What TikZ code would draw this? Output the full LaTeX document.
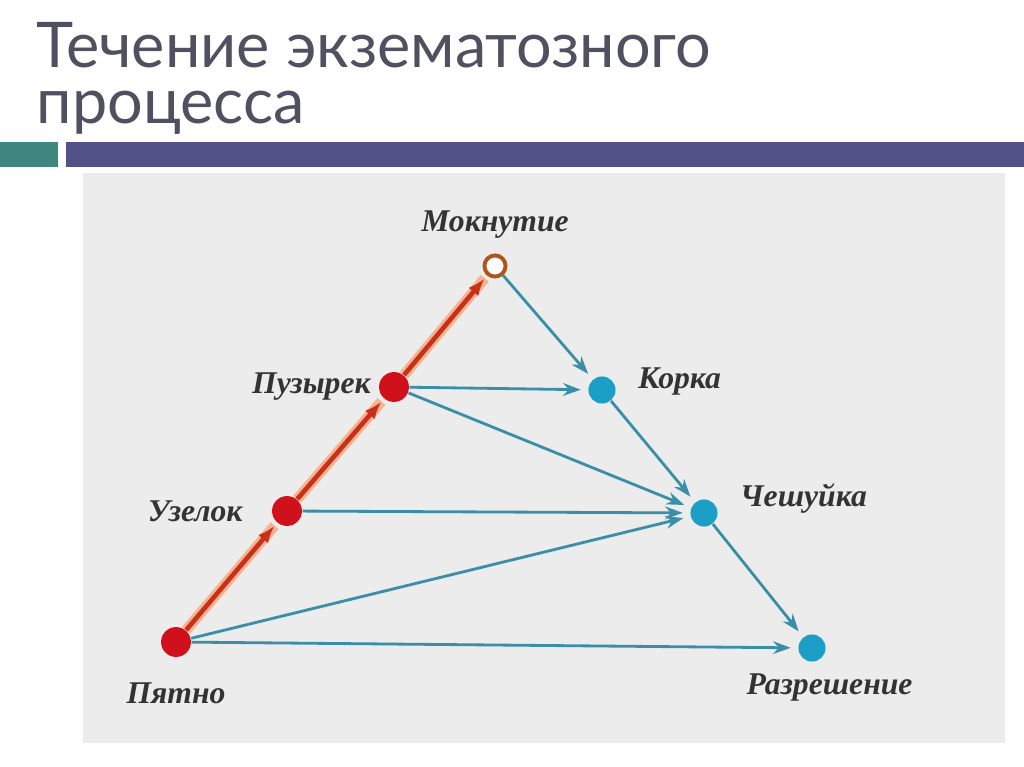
\documentclass[tikz,border=0pt]{standalone}
\usepackage{fontspec}
\setmainfont{Lato}
\newfontfamily\labelfont{Liberation Serif}
\usetikzlibrary{arrows.meta, positioning}

\definecolor{titlegray}{HTML}{505060}
\definecolor{barteal}{HTML}{3F8580}
\definecolor{barpurple}{HTML}{525288}
\definecolor{photobg}{HTML}{ECECEC}
\definecolor{dotred}{HTML}{D0101A}
\definecolor{dotblue}{HTML}{1C9FC6}
\definecolor{linered}{HTML}{C8301C}
\definecolor{glow}{HTML}{F6B48E}
\definecolor{lineblue}{HTML}{3A8EA8}
\definecolor{ringbrown}{HTML}{B0541E}

\tikzset{
	reddot/.style={circle, fill=dotred, minimum size=8.5pt, inner sep=0pt},
	bluedot/.style={circle, fill=dotblue, minimum size=7.7pt, inner sep=0pt},
	hollowdot/.style={circle, draw=ringbrown, fill=white, line width=1.1pt, minimum size=6pt, inner sep=0pt},
	lbl/.style={inner sep=0pt, text=black!80, font=\labelfont\bfseries\itshape\fontsize{9}{10}\selectfont},
	redarrow/.style={draw=linered, line width=1.3pt, -{Latex[length=5pt,width=3.6pt]}, shorten >=1pt,
		preaction={draw=glow, line width=3pt, -}},
	bluearrow/.style={draw=lineblue, line width=0.8pt, -{Stealth[length=5pt,width=3.6pt]}, shorten >=2pt}
}

\begin{document}
\begin{tikzpicture}[x=0.01cm, y=-0.01cm]
		\useasboundingbox (0,0) rectangle (1024,767);
		\fill[white] (0,0) rectangle (1024,767);
		
		% title
		\node[anchor=north west, inner sep=0pt, align=left, text=titlegray, font=\fontsize{17.9}{15.7}\selectfont] (title) at (36,22) {Течение экзематозного\\процесса};
		
		% bar
		\fill[barteal] (0,142) rectangle (58,167);
		\fill[barpurple] (66,142) rectangle (1024,167);
		
		% picture
		\fill[photobg] (83,173) rectangle (1005,743);
		
		\node[reddot] (pyatno) at (176,642) {};
		\node[reddot] (uzelok) at (287,511) {};
		\node[reddot] (puzyrek) at (394,387) {};
		\node[hollowdot] (mokn) at (495,266) {};
		\node[bluedot] (korka) at (602,390) {};
		\node[bluedot] (cheshuika) at (704,513) {};
		\node[bluedot] (razresh) at (812,648) {};
		
		\node[lbl, above=4pt of mokn] (mokn-l) {Мокнутие};
		\node[lbl, left=2pt of puzyrek] (puzyrek-l) {Пузырек};
		\node[lbl, right=6pt of korka, yshift=2.5pt] (korka-l) {Корка};
		\node[lbl, left=8pt of uzelok] (uzelok-l) {Узелок};
		\node[lbl, right=6pt of cheshuika, yshift=4pt] (cheshuika-l) {Чешуйка};
		\node[lbl, below=7pt of pyatno] (pyatno-l) {Пятно};
		\node[lbl, below=3pt of razresh, xshift=5pt] (razresh-l) {Разрешение};
		
		\draw[redarrow] (pyatno) -- (uzelok);
		\draw[redarrow] (uzelok) -- (puzyrek);
		\draw[redarrow] (puzyrek) -- (mokn);
		
		\draw[bluearrow] (mokn) -- (korka);
		\draw[bluearrow] (puzyrek) -- (korka);
		\draw[bluearrow] (puzyrek) -- (cheshuika);
		\draw[bluearrow] (korka) -- (cheshuika);
		\draw[bluearrow] (uzelok) -- (cheshuika);
		\draw[bluearrow] (pyatno) -- (cheshuika);
		\draw[bluearrow] (pyatno) -- (razresh);
		\draw[bluearrow] (cheshuika) -- (razresh);

	\end{tikzpicture}
\end{document}
